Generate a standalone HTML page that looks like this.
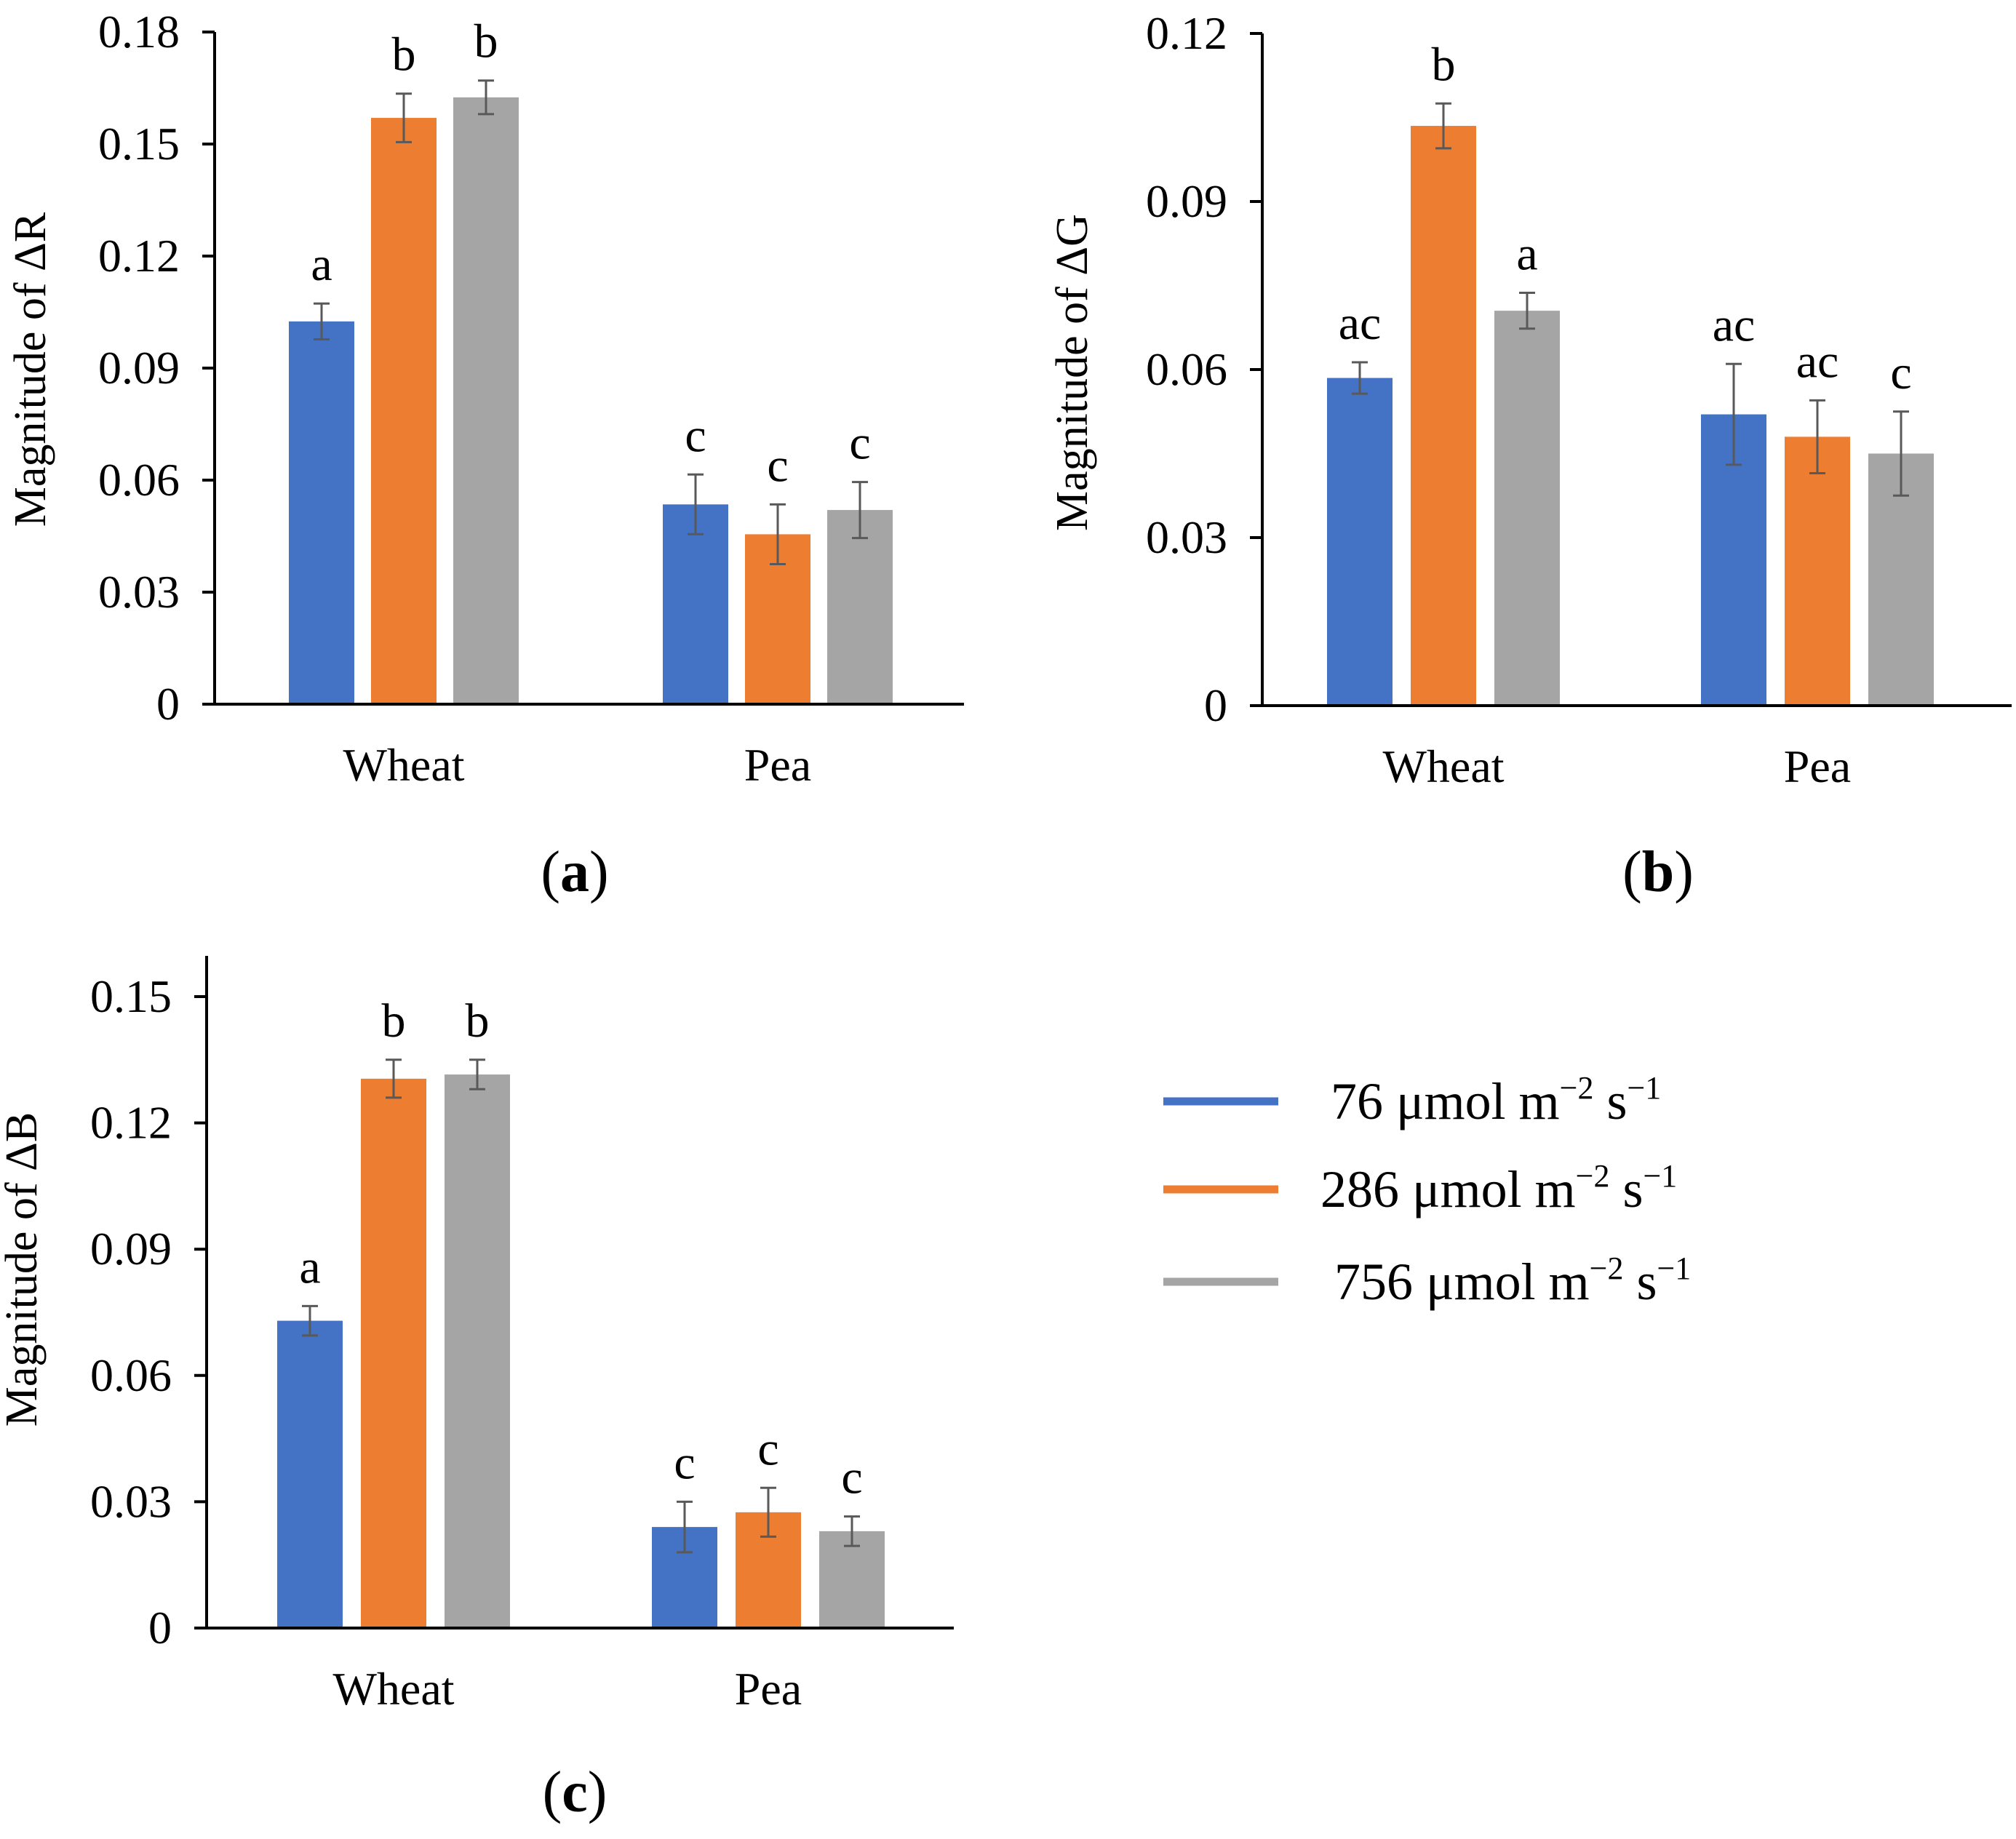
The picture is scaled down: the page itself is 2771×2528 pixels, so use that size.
<!DOCTYPE html>
<html><head><meta charset="utf-8">
<style>
html,body{margin:0;padding:0;background:#fff;}
svg{display:block;}
svg text{font-family:"Liberation Serif","Times New Roman",serif;}
</style></head>
<body>
<svg id="fig" width="2771" height="2528" viewBox="0 0 2771 2528" xmlns="http://www.w3.org/2000/svg" font-family="Liberation Serif, serif"></svg>
<script>
const categories = ["Wheat","Pea"];
const seriesNames = ["76 μmol m","286 μmol m","756 μmol m"];
const seriesColors = ["#4472C4","#ED7D31","#A5A5A5"];
// Panel (a) ΔR
const aValues = [[0.1025,0.157,0.1625],[0.0535,0.0455,0.052]];
const aErrors = [[0.0048,0.0065,0.0045],[0.008,0.008,0.0075]];
const aLetters = [["a","b","b"],["c","c","c"]];
const aTicks = ["0","0.03","0.06","0.09","0.12","0.15","0.18"];
// Panel (b) ΔG
const bValues = [[0.0585,0.1035,0.0705],[0.052,0.048,0.045]];
const bErrors = [[0.0028,0.004,0.0032],[0.009,0.0065,0.0075]];
const bLetters = [["ac","b","a"],["ac","ac","c"]];
const bTicks = ["0","0.03","0.06","0.09","0.12"];
// Panel (c) ΔB
const cValues = [[0.073,0.1305,0.1315],[0.024,0.0275,0.023]];
const cErrors = [[0.0035,0.0045,0.0035],[0.006,0.0058,0.0035]];
const cLetters = [["a","b","b"],["c","c","c"]];
const cTicks = ["0","0.03","0.06","0.09","0.12","0.15"];

const NS="http://www.w3.org/2000/svg";
const svg=document.getElementById('fig');
const FONT='"Liberation Serif", "Times New Roman", serif';
function mk(tag,attrs,parent){const e=document.createElementNS(NS,tag);for(const k in attrs)e.setAttribute(k,attrs[k]);if(tag==='text')e.style.fontFamily=FONT;(parent||svg).appendChild(e);return e;}

function panel(id,cfg,values,errors,letters,ticks){
  const g=mk('g',{});
  
  
  const step=0.03;
  const maxV=(ticks.length-1)*step;
  const y=v=>cfg.y0-(v/maxV)*(cfg.y0-cfg.yTop);
  for(let c=0;c<categories.length;c++){
    for(let s=0;s<3;s++){
      const x=cfg.groupStart[c]+s*cfg.pitch;
      const v=values[c][s], e=errors[c][s];
      const r=mk('rect',{x:x,y:y(v),width:cfg.bw,height:cfg.y0-y(v),fill:seriesColors[s]},g);
      
      
      const cx=x+cfg.bw/2;
      const eb=mk('path',{d:`M${cx},${y(v+e)}V${y(v-e)}M${cx-11},${y(v+e)}H${cx+11}M${cx-11},${y(v-e)}H${cx+11}`,stroke:'#595959','stroke-width':3,fill:'none'},g);
      
      
      const t=mk('text',{x:cx,y:y(v+e)-32,'text-anchor':'middle','font-size':66,fill:'#000'},g);
      t.textContent=letters[c][s];
      
      
    }
    const lbl=mk('text',{x:cfg.groupStart[c]+cfg.pitch+cfg.bw/2,y:cfg.y0+105,'text-anchor':'middle','font-size':64},g);
    lbl.textContent=categories[c];
    
    
  }
  const ax=mk('path',{d:`M${cfg.ax},${cfg.axTop}V${cfg.y0}M${cfg.ax-17},${cfg.y0}H${cfg.axRight}`,stroke:'#000','stroke-width':4,fill:'none'},g);
  
  
  ticks.forEach((tl,i)=>{
    const yy=y(i*step);
    mk('line',{x1:cfg.ax-17,x2:cfg.ax,y1:yy,y2:yy,stroke:'#000','stroke-width':4},g);
    const t=mk('text',{x:cfg.ax-48,y:yy+21,'text-anchor':'end','font-size':64},g);
    t.textContent=tl;
    
    
  });
  const tt=mk('text',{x:cfg.titleX,y:cfg.titleY,'text-anchor':'middle','font-size':62,transform:`rotate(-90 ${cfg.titleX} ${cfg.titleY})`},g);
  tt.textContent=cfg.title;
  
  
  const pl=mk('text',{x:cfg.plX,y:cfg.plY,'text-anchor':'middle','font-size':80},g);
  pl.innerHTML='(<tspan font-weight="bold">'+id+'</tspan>)';
  
  
}

panel('a',{ax:295,axTop:44,yTop:44,y0:968,axRight:1325,groupStart:[397,911],pitch:113,bw:90,titleX:62,titleY:508,title:'Magnitude  of ΔR',plX:790,plY:1225},aValues,aErrors,aLetters,aTicks);
panel('b',{ax:1735,axTop:46,yTop:46,y0:970,axRight:2765,groupStart:[1824,2338],pitch:115,bw:90,titleX:1494,titleY:512,title:'Magnitude  of ΔG',plX:2279,plY:1225},bValues,bErrors,bLetters,bTicks);
panel('c',{ax:284,axTop:1314,yTop:1370,y0:2238,axRight:1311,groupStart:[381,896],pitch:115,bw:90,titleX:50,titleY:1745,title:'Magnitude  of ΔB',plX:790,plY:2490},cValues,cErrors,cLetters,cTicks);

const legY=[1514,1635,1762];
const legX=[1829,1815,1834];
const legNums=["76","286","756"];
const lg=mk('g',{});


for(let i=0;i<3;i++){
  const l=mk('line',{x1:1599,x2:1757,y1:legY[i],y2:legY[i],stroke:seriesColors[i],'stroke-width':11},lg);
  
  
  const t=mk('text',{x:legX[i],y:legY[i]+24,'font-size':72},lg);
  t.innerHTML=legNums[i]+' μmol m<tspan dy="-28" font-size="44">−2</tspan><tspan dy="28"> s</tspan><tspan dy="-28" font-size="44">−1</tspan>';
  
  
}
</script>
</body></html>
